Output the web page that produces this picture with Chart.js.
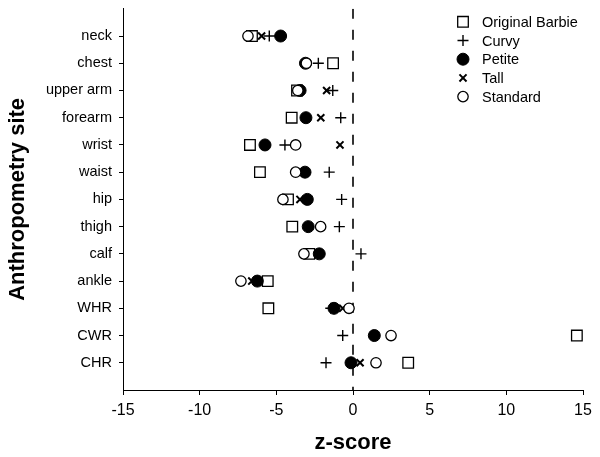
<!DOCTYPE html>
<html>
<head>
<meta charset="utf-8">
<script src="https://cdn.jsdelivr.net/npm/chart.js@4"></script>
<style>
  html, body { margin: 0; padding: 0; background: #fff; }
  #wrap { width: 600px; height: 457px; }
</style>
</head>
<body>
<div id="wrap"><canvas id="chart"></canvas></div>
<script>
// anthropometry sites, top to bottom
const sites = ['neck', 'chest', 'upper arm', 'forearm', 'wrist', 'waist', 'hip', 'thigh', 'calf', 'ankle', 'WHR', 'CWR', 'CHR'];

// z-scores per doll, same order as sites (null = not shown)
const originalBarbie = [-6.59, -1.30, -3.65, -4.00, -6.72, -6.07, -4.24, -3.96, -2.85, -5.56, -5.52, 14.6, 3.6];
const curvy = [-5.46, -2.26, -1.32, -0.80, -4.44, -1.55, -0.74, -0.89, 0.52, -6.24, -1.45, -0.67, -1.76];
const petite = [-4.72, -3.10, -3.45, -3.07, -5.74, -3.13, -2.98, -2.92, -2.20, -6.24, -1.24, 1.39, -0.13];
const tall = [-5.96, -3.00, -1.72, -2.10, -0.85, -3.13, -3.46, -2.90, -2.20, -6.60, -0.67, 1.39, 0.46];
const standard = [-6.85, -3.04, -3.60, null, -3.74, -3.74, -4.57, -2.11, -3.20, -7.31, -0.26, 2.48, 1.50];

const xTicks = [-15, -10, -5, 0, 5, 10, 15];

const seriesNames = ['Original Barbie', 'Curvy', 'Petite', 'Tall', 'Standard'];
const seriesValues = [originalBarbie, curvy, petite, tall, standard];
const markers = [
    { style: 'rect', radius: 7.5, fill: '#fff', width: 1.3 },
    { style: 'cross', radius: 5.5, fill: '#000', width: 1.4 },
    { style: 'circle', radius: 6, fill: '#000', width: 1 },
    { style: 'crossRot', radius: 5, fill: '#000', width: 2 },
    { style: 'circle', radius: 5.2, fill: '#fff', width: 1.3 }
];

Chart.defaults.font.family = '"Liberation Sans", Arial, sans-serif';
Chart.defaults.color = '#000';

const toPoints = vals => vals
    .map((v, i) => ({ x: v, y: i + 1 }))
    .filter(p => p.x !== null);

const datasets = seriesValues.map((vals, k) => ({
    label: seriesNames[k],
    data: toPoints(vals),
    pointStyle: markers[k].style,
    pointRadius: markers[k].radius,
    pointHoverRadius: markers[k].radius,
    pointBackgroundColor: markers[k].fill,
    pointBorderColor: '#000',
    pointBorderWidth: markers[k].width,
    order: 5 - k
}));

// dashed reference line at z = 0
datasets.push({
    label: 'zero',
    data: [{ x: 0, y: 0 }, { x: 0, y: sites.length + 1 }],
    showLine: true,
    borderColor: '#000',
    borderWidth: 1.6,
    borderDash: [10, 11],
    pointRadius: 0,
    order: 10
});

const markerLegend = {
    id: 'markerLegend',
    afterDraw(chart) {
        const ctx = chart.ctx;
        const left = chart.chartArea.right - 120;
        ctx.save();
        ctx.font = '14.5px "Liberation Sans", Arial, sans-serif';
        ctx.textBaseline = 'middle';
        seriesNames.forEach((name, k) => {
            const y = chart.chartArea.top + 13 + k * 18.7;
            const m = markers[k];
            ctx.fillStyle = m.fill;
            ctx.strokeStyle = '#000';
            ctx.lineWidth = m.width;
            Chart.helpers.drawPoint(ctx, { pointStyle: m.style, radius: m.radius, rotation: 0, borderWidth: m.width }, left, y);
            ctx.fillStyle = '#000';
            ctx.fillText(name, left + 19, y + 1);
        });
        ctx.restore();
    }
};

new Chart(document.getElementById('chart'), {
    type: 'scatter',
    data: { datasets },
    options: {
        responsive: true,
        maintainAspectRatio: false,
        animation: false,
        layout: { padding: { top: 7, right: 17, left: 0, bottom: 0 } },
        plugins: {
            legend: { display: false },
            tooltip: { enabled: false }
        },
        scales: {
            x: {
                type: 'linear',
                min: xTicks[0],
                max: xTicks[xTicks.length - 1],
                afterBuildTicks: axis => { axis.ticks = xTicks.map(v => ({ value: v })); },
                afterFit: axis => { axis.height = 67; },
                ticks: { font: { size: 16 }, padding: 6, maxRotation: 0 },
                grid: { drawOnChartArea: false, color: '#000', tickLength: 5 },
                border: { color: '#000', width: 1 },
                title: {
                    display: true,
                    text: 'z-score',
                    font: { size: 22, weight: 'bold' },
                    padding: { top: 0, bottom: 1 }
                }
            },
            y: {
                type: 'linear',
                reverse: true,
                min: 0,
                max: sites.length + 1,
                afterBuildTicks: axis => {
                    axis.ticks = sites.map((s, i) => ({ value: i + 1 }));
                },
                afterFit: axis => {
                    axis.width = 123;
                    axis.paddingTop = 0;
                    axis.paddingBottom = 0;
                },
                ticks: {
                    font: { size: 14.5 },
                    padding: 7,
                    autoSkip: false,
                    callback: v => sites[v - 1] || ''
                },
                grid: { drawOnChartArea: false, color: '#000', tickLength: 4 },
                border: { color: '#000', width: 1 },
                title: {
                    display: true,
                    text: 'Anthropometry site',
                    font: { size: 22, weight: 'bold' },
                    padding: { top: 5, bottom: 0 }
                }
            }
        }
    },
    plugins: [markerLegend]
});
</script>
</body>
</html>
